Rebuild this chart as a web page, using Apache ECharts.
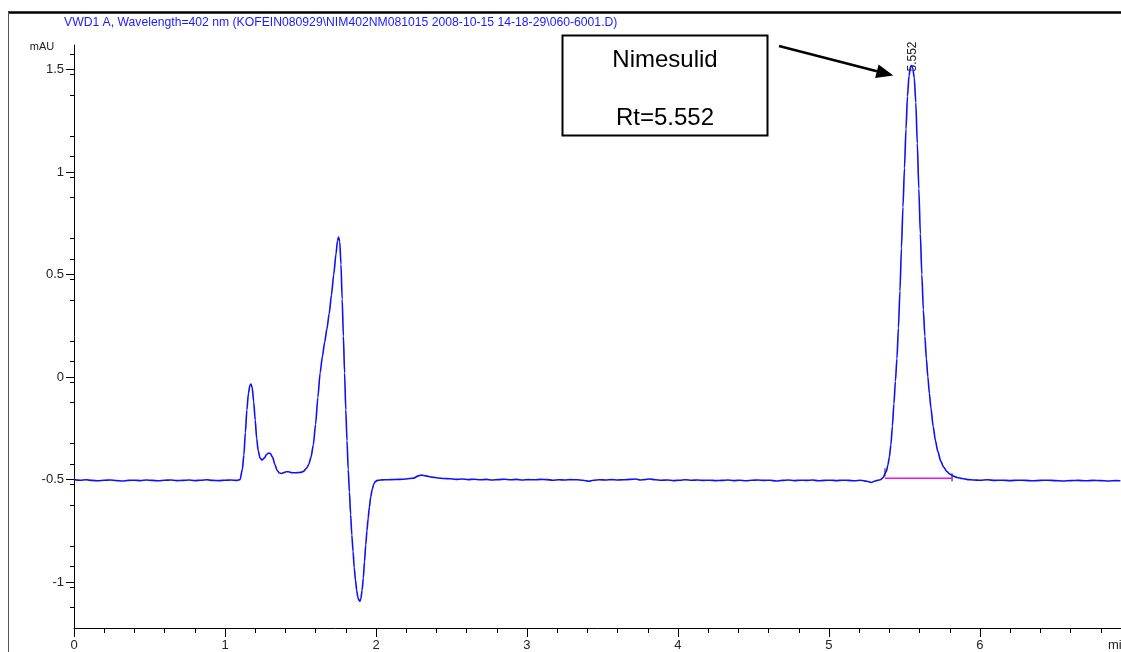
<!DOCTYPE html>
<html>
<head>
<meta charset="utf-8">
<title>VWD1 A, Wavelength=402 nm</title>
<script src="https://cdn.jsdelivr.net/npm/echarts@6/dist/echarts.min.js"></script>
<style>
  html, body { margin: 0; padding: 0; background: #fff; }
  #chart { width: 1121px; height: 652px; }
</style>
</head>
<body>
<div id="chart"></div>
<script>
// Chromatogram trace, [time (min), signal (mAU)], split by region.
const leadBaseline = [
  [0.00,-0.500],[0.04,-0.503],[0.08,-0.501],[0.12,-0.504],[0.16,-0.506],[0.20,-0.503],
  [0.24,-0.502],[0.28,-0.505],[0.32,-0.507],[0.36,-0.504],[0.40,-0.503],[0.44,-0.505],
  [0.48,-0.502],[0.52,-0.504],[0.56,-0.506],[0.60,-0.503],[0.64,-0.502],[0.68,-0.505],
  [0.72,-0.504],[0.76,-0.502],[0.80,-0.505],[0.84,-0.503],[0.88,-0.501],[0.92,-0.504],
  [0.96,-0.505],[1.00,-0.503],[1.04,-0.502],[1.08,-0.504]
];
const solventRegion = [
  [1.100,-0.500],[1.115,-0.450],[1.125,-0.380],[1.135,-0.270],[1.145,-0.160],[1.155,-0.080],
  [1.165,-0.040],[1.172,-0.034],[1.180,-0.050],[1.190,-0.120],[1.200,-0.210],[1.210,-0.300],
  [1.220,-0.360],[1.232,-0.395],[1.245,-0.405],[1.260,-0.395],[1.275,-0.378],[1.290,-0.370],
  [1.300,-0.373],[1.315,-0.390],[1.330,-0.425],[1.345,-0.455],[1.360,-0.468],[1.375,-0.470],
  [1.390,-0.466],[1.405,-0.462],[1.420,-0.462],[1.440,-0.466],[1.460,-0.467],[1.480,-0.466],
  [1.500,-0.465],[1.520,-0.460],[1.540,-0.445],[1.555,-0.425],[1.570,-0.390],[1.585,-0.330],
  [1.600,-0.230],[1.615,-0.100],[1.630,0.020],[1.645,0.100],[1.660,0.170],[1.675,0.235],
  [1.690,0.310],[1.705,0.400],[1.720,0.500],[1.735,0.600],[1.745,0.665],[1.752,0.683],
  [1.760,0.660],[1.768,0.550],[1.776,0.380],[1.784,0.200],[1.792,0.020],[1.800,-0.160],
  [1.808,-0.310],[1.816,-0.450],[1.824,-0.560],[1.832,-0.670],[1.840,-0.770],[1.848,-0.850],
  [1.856,-0.930],[1.864,-0.990],[1.872,-1.040],[1.880,-1.075],[1.888,-1.090],[1.894,-1.093],
  [1.900,-1.080],[1.908,-1.040],[1.916,-0.980],[1.924,-0.900],[1.932,-0.820],[1.940,-0.750],
  [1.948,-0.690],[1.956,-0.635],[1.965,-0.585],[1.975,-0.548],[1.985,-0.523],[1.995,-0.510],
  [2.010,-0.504],[2.030,-0.502]
];
const midBaseline = [
  [2.06,-0.501],[2.10,-0.500],[2.15,-0.499],[2.20,-0.497],[2.25,-0.493],[2.28,-0.482],
  [2.30,-0.478],[2.33,-0.482],[2.37,-0.488],[2.41,-0.492],[2.45,-0.495],[2.49,-0.496],
  [2.53,-0.499],[2.57,-0.497],[2.61,-0.500],[2.65,-0.498],[2.69,-0.501],[2.73,-0.499],
  [2.77,-0.502],[2.81,-0.500],[2.85,-0.498],[2.89,-0.501],[2.93,-0.499],[2.97,-0.502],
  [3.01,-0.500],[3.05,-0.501],[3.09,-0.499],[3.13,-0.500],[3.17,-0.503],[3.21,-0.501],
  [3.25,-0.502],[3.29,-0.500],[3.33,-0.501],[3.37,-0.503],[3.41,-0.508],[3.44,-0.503],
  [3.48,-0.501],[3.52,-0.502],[3.56,-0.500],[3.60,-0.502],[3.64,-0.501],[3.68,-0.499],
  [3.72,-0.497],[3.75,-0.502],[3.78,-0.500],[3.81,-0.497],[3.85,-0.501],[3.89,-0.503],
  [3.93,-0.502],[3.97,-0.505],[4.01,-0.503],[4.05,-0.501],[4.09,-0.503],[4.13,-0.502],
  [4.17,-0.504],[4.21,-0.503],[4.25,-0.505],[4.29,-0.504],[4.33,-0.502],[4.37,-0.505],
  [4.41,-0.503],[4.45,-0.506],[4.49,-0.503],[4.53,-0.502],[4.57,-0.504],[4.61,-0.503],
  [4.65,-0.507],[4.69,-0.504],[4.73,-0.502],[4.77,-0.505],[4.81,-0.503],[4.85,-0.504],
  [4.89,-0.502],[4.93,-0.506],[4.97,-0.504],[5.01,-0.503],[5.05,-0.505],[5.09,-0.503],
  [5.13,-0.504],[5.17,-0.506],[5.21,-0.503],[5.25,-0.508],[5.28,-0.514],[5.31,-0.506],
  [5.34,-0.501],[5.36,-0.490]
];
const nimesulidPeak = [
  [5.371,-0.470],[5.380,-0.460],[5.390,-0.430],[5.400,-0.390],[5.410,-0.330],[5.420,-0.240],
  [5.430,-0.130],[5.440,-0.020],[5.450,0.090],[5.460,0.240],[5.470,0.420],[5.480,0.630],
  [5.490,0.830],[5.500,1.020],[5.510,1.210],[5.520,1.370],[5.530,1.470],[5.540,1.515],
  [5.547,1.520],[5.555,1.505],[5.565,1.460],[5.575,1.340],[5.585,1.140],[5.595,0.920],
  [5.605,0.700],[5.615,0.500],[5.625,0.330],[5.635,0.200],[5.645,0.090],[5.655,0.000],
  [5.665,-0.080],[5.675,-0.150],[5.690,-0.240],[5.705,-0.310],[5.720,-0.360],[5.740,-0.410],
  [5.760,-0.440],[5.780,-0.460],[5.800,-0.473],[5.820,-0.482],[5.850,-0.490],[5.880,-0.495],
  [5.920,-0.500]
];
const tailBaseline = [
  [5.96,-0.502],[6.00,-0.503],[6.05,-0.501],[6.10,-0.504],[6.15,-0.503],[6.20,-0.505],
  [6.25,-0.503],[6.30,-0.504],[6.35,-0.506],[6.40,-0.504],[6.45,-0.503],[6.50,-0.505],
  [6.55,-0.507],[6.60,-0.505],[6.65,-0.504],[6.70,-0.506],[6.75,-0.504],[6.80,-0.505],
  [6.85,-0.507],[6.90,-0.505],[6.93,-0.506]
];

// Integration baseline drawn under the Nimesulid peak
const integrationBase = [[5.371,-0.494],[5.815,-0.494]];

// Peak annotation
const peakName = 'Nimesulid';
const peakRt = 5.552;
const peakApex = 1.52;

// Axis ticks
const timeTicks = [0, 1, 2, 3, 4, 5, 6];
const mauTicks = [-1, -0.5, 0, 0.5, 1, 1.5];

const titleText = 'VWD1 A, Wavelength=402 nm (KOFEIN080929\\NIM402NM081015 2008-10-15 14-18-29\\060-6001.D)';

const trace = [].concat(leadBaseline, solventRegion, midBaseline, nimesulidPeak, tailBaseline);

const FONT = '"Liberation Sans", Arial, sans-serif';
const chart = echarts.init(document.getElementById('chart'), null, { renderer: 'canvas' });

const axisLineStyle = { color: '#000', width: 1 };

chart.setOption({
  animation: false,
  backgroundColor: '#fff',
  title: {
    text: titleText,
    left: 64,
    top: 17,
    padding: 0,
    textStyle: { color: '#1a1aff', fontSize: 12.2, fontWeight: 'normal', fontFamily: FONT }
  },
  grid: { left: 74, right: 0, top: 45, bottom: 24, containLabel: false },
  xAxis: {
    type: 'value',
    min: 0,
    max: 6.934,
    interval: 1,
    axisLine: { show: true, onZero: false, lineStyle: axisLineStyle },
    axisTick: { show: true, inside: false, length: 9, customValues: timeTicks, lineStyle: axisLineStyle },
    minorTick: { show: true, splitNumber: 5, length: 5, lineStyle: { color: '#000', width: 1 } },
    axisLabel: { customValues: timeTicks, margin: 11, color: '#222', fontSize: 13, fontFamily: FONT },
    splitLine: { show: false },
    minorSplitLine: { show: false }
  },
  yAxis: {
    type: 'value',
    min: -1.224,
    max: 1.62,
    interval: 0.5,
    axisLine: { show: true, onZero: false, lineStyle: axisLineStyle },
    axisTick: { show: true, inside: false, length: 8, customValues: mauTicks, lineStyle: axisLineStyle },
    minorTick: { show: true, splitNumber: 5, length: 4, lineStyle: { color: '#000', width: 1 } },
    axisLabel: { customValues: mauTicks, margin: 10, color: '#222', fontSize: 13, fontFamily: FONT },
    splitLine: { show: false },
    minorSplitLine: { show: false }
  },
  series: [
    {
      name: 'VWD1 A',
      type: 'line',
      data: trace,
      showSymbol: false,
      symbol: 'none',
      smooth: 0.25,
      smoothMonotone: 'x',
      lineStyle: { color: '#1010f5', width: 1.6 },
      z: 3
    },
    {
      name: 'baseline',
      type: 'line',
      data: integrationBase,
      symbol: 'none',
      lineStyle: { color: '#ee10ee', width: 1.5 },
      z: 2
    }
  ]
});

// Annotation elements positioned from data coordinates
const apexPx = chart.convertToPixel({ gridIndex: 0 }, [peakRt, peakApex]);
const basePx0 = chart.convertToPixel({ gridIndex: 0 }, integrationBase[0]);
const basePx1 = chart.convertToPixel({ gridIndex: 0 }, integrationBase[1]);

// Arrow from the label box to the peak apex
const arrowFrom = [779, 46];
const arrowTo = [apexPx[0] - 19, apexPx[1] + 10];
const ang = Math.atan2(arrowTo[1] - arrowFrom[1], arrowTo[0] - arrowFrom[0]);
const headLen = 17, headHalf = 7;
const baseX = arrowTo[0] - headLen * Math.cos(ang);
const baseY = arrowTo[1] - headLen * Math.sin(ang);
const nx = -Math.sin(ang), ny = Math.cos(ang);

chart.setOption({
  graphic: [
    // frame lines
    { type: 'line', shape: { x1: 8, y1: 12.5, x2: 1121, y2: 12.5 }, style: { stroke: '#000', lineWidth: 2.5 }, silent: true },
    { type: 'line', shape: { x1: 8.5, y1: 12, x2: 8.5, y2: 652 }, style: { stroke: '#555', lineWidth: 1 }, silent: true },
    // axis unit labels
    { type: 'text', x: 42, y: 47, style: { text: 'mAU', fill: '#222', font: '11px ' + FONT, align: 'center', verticalAlign: 'middle' }, silent: true },
    { type: 'text', x: 1108, y: 645, style: { text: 'min', fill: '#222', font: '13px ' + FONT, align: 'left', verticalAlign: 'middle' }, silent: true },
    // retention time label above the apex
    { type: 'text', x: apexPx[0], y: apexPx[1] - 9, rotation: Math.PI / 2,
      style: { text: peakRt.toFixed(3), fill: '#222', font: '12px ' + FONT, align: 'center', verticalAlign: 'middle' }, silent: true },
    // integration baseline end markers
    { type: 'line', shape: { x1: basePx0[0], y1: basePx0[1] - 10, x2: basePx0[0], y2: basePx0[1] - 2 }, style: { stroke: '#111', lineWidth: 1 }, silent: true },
    { type: 'line', shape: { x1: basePx1[0], y1: basePx1[1] - 5, x2: basePx1[0], y2: basePx1[1] + 3 }, style: { stroke: '#111', lineWidth: 1 }, silent: true },
    // peak label box
    { type: 'rect', shape: { x: 562.5, y: 35.5, width: 205, height: 100 }, style: { fill: '#fff', stroke: '#000', lineWidth: 2 }, silent: true, z: 10 },
    { type: 'text', x: 665, y: 60, z: 11, style: { text: peakName, fill: '#000', font: '24px ' + FONT, align: 'center', verticalAlign: 'middle' }, silent: true },
    { type: 'text', x: 665, y: 118, z: 11, style: { text: 'Rt=' + peakRt.toFixed(3), fill: '#000', font: '24px ' + FONT, align: 'center', verticalAlign: 'middle' }, silent: true },
    // arrow
    { type: 'line', shape: { x1: arrowFrom[0], y1: arrowFrom[1], x2: baseX, y2: baseY }, style: { stroke: '#000', lineWidth: 2.5 }, silent: true, z: 10 },
    { type: 'polygon', shape: { points: [
        [arrowTo[0], arrowTo[1]],
        [baseX + nx * headHalf, baseY + ny * headHalf],
        [baseX - nx * headHalf, baseY - ny * headHalf]
      ] }, style: { fill: '#000' }, silent: true, z: 10 }
  ]
});
</script>
</body>
</html>
